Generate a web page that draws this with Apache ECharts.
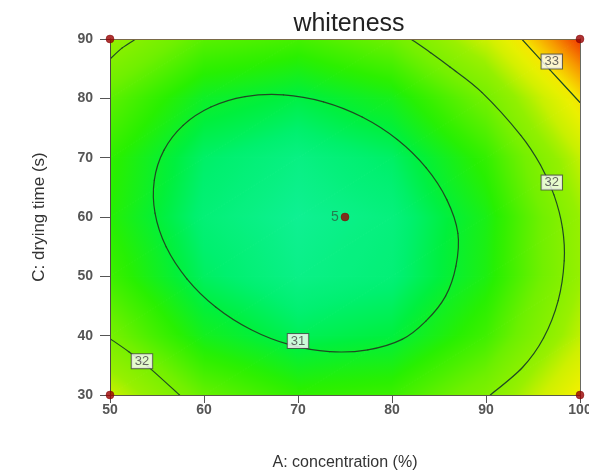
<!DOCTYPE html>
<html>
<head>
<meta charset="utf-8">
<script src="https://cdn.jsdelivr.net/npm/echarts@6/dist/echarts.min.js"></script>
<style>html,body{margin:0;padding:0;background:#fff;}#chart{width:589px;height:472px;}</style>
</head>
<body>
<div id="chart"></div>
<script>
// ---- data ----
const concA = [50, 60, 70, 80, 90, 100];          // A: concentration (%)
const timeC = [30, 40, 50, 60, 70, 80, 90];       // C: drying time (s)
// estimated whiteness at each grid node, one array per C row
const w30 = [32.64, 31.83, 31.46, 31.54, 32.07, 33.05];
const w40 = [31.97, 31.20, 30.87, 30.99, 31.56, 32.57];
const w50 = [31.55, 30.82, 30.53, 30.68, 31.29, 32.34];
const w60 = [31.38, 30.68, 30.43, 30.62, 31.26, 32.35];
const w70 = [31.45, 30.79, 30.57, 30.80, 31.48, 32.60];
const w80 = [31.77, 31.14, 30.96, 31.23, 31.95, 33.11];
const w90 = [32.33, 31.74, 31.60, 31.90, 32.66, 33.85];
const whiteRows = [w30, w40, w50, w60, w70, w80, w90];

// contour lines [A, C]
const contour31 = [[87.01,57.26],[85.83,62.93],[83.62,68.31],[80.56,73.06],[76.83,76.85],[72.71,79.41],[68.45,80.59],[64.37,80.29],[60.73,78.53],[57.78,75.45],[55.73,71.23],[54.71,66.18],[54.79,60.64],[55.97,54.97],[58.18,49.59],[61.24,44.84],[64.97,41.05],[69.09,38.49],[73.35,37.31],[77.43,37.61],[81.07,39.37],[83.6,42.45],[85.7,46.67],[86.8,51.72]];
const contour32right = [[82.0,90],[84.1,87.7],[86.17,85.27],[89.56,81.0],[93.7,73.77],[95.8,68.76],[97.23,63.73],[98.13,58.2],[98.32,52.62],[97.68,45.91],[96.12,39.6],[93.88,34.64],[90.46,30]];
const contour32lowLeft = [[50,39.5],[52.0,37.3],[53.9,35.0],[57.4,30]];
const contour32topLeft = [[50,86.6],[51.3,88.5],[52.75,90]];
const contour33 = [[93.8,90],[96.8,84.8],[100,79.3]];

// contour labels
const labelA = [70, 53.4, 97, 97];
const labelC = [39.1, 35.7, 65.8, 86.2];
const labelText = ['31', '32', '32', '33'];

// design points
const designA = [50, 50, 100, 100, 75];
const designC = [30, 90, 30, 90, 60];
const designLabel = ['', '', '', '', '5'];

const xTicks = [50, 60, 70, 80, 90, 100];
const yTicks = [30, 40, 50, 60, 70, 80, 90];

// ---- colour scale (style) ----
const cstops = [
  [30.40, [16,240,150]],
  [30.75, [0,240,110]],
  [31.00, [0,240,60]],
  [31.40, [40,240,0]],
  [31.90, [112,240,0]],
  [32.35, [150,240,0]],
  [32.65, [205,240,0]],
  [33.05, [245,240,0]],
  [33.40, [248,170,0]],
  [33.85, [240,56,0]]
];
function cmap(v) {
  if (v <= cstops[0][0]) return 'rgb(' + cstops[0][1].join(',') + ')';
  for (let i = 1; i < cstops.length; i++) {
    if (v <= cstops[i][0]) {
      const t = (v - cstops[i-1][0]) / (cstops[i][0] - cstops[i-1][0]);
      const a = cstops[i-1][1], b = cstops[i][1];
      return 'rgb(' + a.map((x, k) => Math.round(x + (b[k]-x)*t)).join(',') + ')';
    }
  }
  return 'rgb(' + cstops[cstops.length-1][1].join(',') + ')';
}

function triFill(P, V) {
  const p0 = P[0], p1 = P[1], p2 = P[2];
  const v0 = V[0], v1 = V[1], v2 = V[2];
  const e1x = p1[0]-p0[0], e1y = p1[1]-p0[1], e2x = p2[0]-p0[0], e2y = p2[1]-p0[1];
  const d1 = v1-v0, d2 = v2-v0;
  const det = e1x*e2y - e1y*e2x;
  const vmin = Math.min(v0,v1,v2), vmax = Math.max(v0,v1,v2);
  if (Math.abs(det) < 1e-9 || vmax - vmin < 1e-6) return cmap((vmin+vmax)/2);
  const gx = (d1*e2y - e1y*d2)/det, gy = (e1x*d2 - e2x*d1)/det;
  const g2 = gx*gx + gy*gy;
  if (g2 < 1e-14) return cmap((vmin+vmax)/2);
  const s = (vmin - v0)/g2, e = (vmax - v0)/g2;
  const stops = [];
  for (let k = 0; k <= 10; k++) {
    const t = k/10;
    stops.push({offset: t, color: cmap(vmin + t*(vmax - vmin))});
  }
  return new echarts.graphic.LinearGradient(p0[0]+gx*s, p0[1]+gy*s, p0[0]+gx*e, p0[1]+gy*e, stops, true);
}

// cells built from the grid arrays
const cells = [];
for (let j = 0; j < timeC.length - 1; j++) {
  for (let i = 0; i < concA.length - 1; i++) {
    cells.push([concA[i], timeC[j], concA[i+1], timeC[j+1],
      whiteRows[j][i], whiteRows[j][i+1], whiteRows[j+1][i], whiteRows[j+1][i+1]]);
  }
}

function renderCell(params, api) {
  const a0 = api.value(0), c0 = api.value(1), a1 = api.value(2), c1 = api.value(3);
  const v00 = api.value(4), v10 = api.value(5), v01 = api.value(6), v11 = api.value(7);
  const p00 = api.coord([a0, c0]), p10 = api.coord([a1, c0]), p01 = api.coord([a0, c1]), p11 = api.coord([a1, c1]);
  const f1 = triFill([p00, p10, p11], [v00, v10, v11]);
  const f2 = triFill([p00, p11, p01], [v00, v11, v01]);
  return {
    type: 'group',
    children: [
      {type: 'polygon', shape: {points: [p00, p10, p11]}, style: {fill: f1, stroke: f1, lineWidth: 1}},
      {type: 'polygon', shape: {points: [p00, p11, p01]}, style: {fill: f2, stroke: f2, lineWidth: 1}}
    ]
  };
}

const FONT = '"Liberation Sans", Arial, sans-serif';
const LINE_COLOR = '#1f4a22';

// contour drawn as a Catmull-Rom spline through the read points (positions via the axes)
function contourSeries(pts, closed) {
  return {
    type: 'custom', silent: true, z: 5, clip: true, animation: false,
    data: pts, encode: {x: 0, y: 1},
    renderItem: function (params, api) {
      if (params.dataIndex !== 0) return null;
      const P = pts.map(p => api.coord(p));
      const n = P.length;
      const segs = [];
      const last = closed ? n : n - 1;
      for (let i = 0; i < last; i++) {
        const p0 = P[closed ? (i - 1 + n) % n : Math.max(i - 1, 0)];
        const p1 = P[i];
        const p2 = P[(i + 1) % n];
        const p3 = P[closed ? (i + 2) % n : Math.min(i + 2, n - 1)];
        segs.push({
          type: 'bezierCurve',
          shape: {
            x1: p1[0], y1: p1[1], x2: p2[0], y2: p2[1],
            cpx1: p1[0] + (p2[0] - p0[0]) / 6, cpy1: p1[1] + (p2[1] - p0[1]) / 6,
            cpx2: p2[0] - (p3[0] - p1[0]) / 6, cpy2: p2[1] - (p3[1] - p1[1]) / 6
          },
          style: {fill: null, stroke: LINE_COLOR, lineWidth: 1.2, lineCap: 'round'}
        });
      }
      return {type: 'group', children: segs};
    }
  };
}

const chart = echarts.init(document.getElementById('chart'), null, {renderer: 'canvas'});
chart.setOption({
  animation: false,
  backgroundColor: '#ffffff',
  title: {
    text: 'whiteness', left: 344, top: 7, textAlign: 'center',
    textStyle: {fontFamily: FONT, fontSize: 25, fontWeight: 'normal', color: '#222'}
  },
  grid: {left: 110, right: 9, top: 39, bottom: 77, outerBoundsMode: 'none', containLabel: false},
  xAxis: [{
    type: 'value', min: 50, max: 100, interval: 10, z: 10,
    name: 'A: concentration (%)', nameLocation: 'middle', nameGap: 60,
    nameTextStyle: {fontFamily: FONT, fontSize: 16, color: '#333'},
    axisLine: {show: true, lineStyle: {color: '#5a5a48', width: 1}},
    axisTick: {show: true, length: 8, lineStyle: {color: '#555'}},
    axisLabel: {fontFamily: FONT, fontSize: 14, fontWeight: 'bold', color: '#555', margin: 8,
      formatter: v => xTicks.includes(v) ? String(v) : ''},
    splitLine: {show: false}
  }, {
    type: 'value', min: 50, max: 100, position: 'top', z: 10,
    axisLine: {show: true, onZero: false, lineStyle: {color: '#7a6a48', width: 1}},
    axisTick: {show: false}, axisLabel: {show: false}, splitLine: {show: false}
  }],
  yAxis: [{
    type: 'value', min: 30, max: 90, interval: 10, z: 10,
    name: 'C: drying time (s)', nameLocation: 'middle', nameGap: 62, nameRotate: 90,
    nameTextStyle: {fontFamily: FONT, fontSize: 17, color: '#333'},
    axisLine: {show: true, lineStyle: {color: '#4a4a40', width: 1}},
    axisTick: {show: true, length: 10, lineStyle: {color: '#555'}},
    axisLabel: {fontFamily: FONT, fontSize: 14, fontWeight: 'bold', color: '#555', margin: 17,
      formatter: v => yTicks.includes(v) ? String(v) : ''},
    splitLine: {show: false}
  }, {
    type: 'value', min: 30, max: 90, position: 'right', z: 10,
    axisLine: {show: true, onZero: false, lineStyle: {color: '#6a6a60', width: 1}},
    axisTick: {show: false}, axisLabel: {show: false}, splitLine: {show: false}
  }],
  series: [
    {type: 'custom', renderItem: renderCell, data: cells, silent: true, z: 1,
      encode: {x: [0, 2], y: [1, 3]}, clip: true, animation: false},
    contourSeries(contour31, true),
    contourSeries(contour32right, false),
    contourSeries(contour32lowLeft, false),
    contourSeries(contour32topLeft, false),
    contourSeries(contour33, false),
    {
      type: 'scatter', silent: true, z: 8, symbolSize: 0,
      data: labelA.map((a, i) => ({value: [a, labelC[i]], name: labelText[i]})),
      label: {show: true, position: 'inside', formatter: p => p.name,
        fontFamily: FONT, fontSize: 13, color: '#444', backgroundColor: '#ffffff',
        borderColor: '#4a4a4a', borderWidth: 1, padding: [1, 3, 0, 3]}
    },
    {
      type: 'scatter', silent: true, z: 12, symbolSize: 8,
      itemStyle: {color: '#9a0000', borderColor: '#7a0000', borderWidth: 0.5},
      data: designA.map((a, i) => ({value: [a, designC[i]], name: designLabel[i]})),
      label: {show: true, position: 'left', distance: 2, formatter: p => p.name,
        fontFamily: FONT, fontSize: 14, color: '#2a6040'}
    }
  ]
});
</script>
</body>
</html>
